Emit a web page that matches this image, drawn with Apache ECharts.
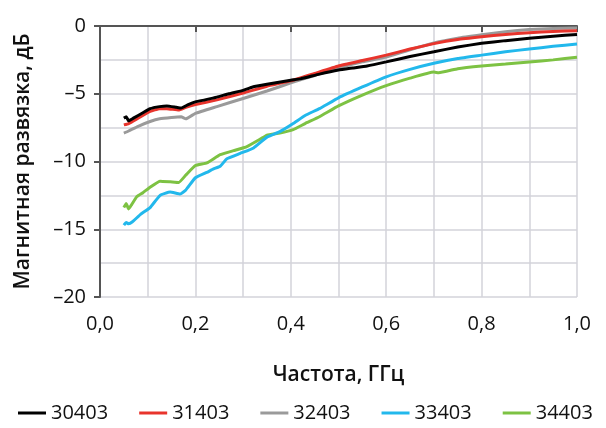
<!DOCTYPE html>
<html>
<head>
<meta charset="utf-8">
<script src="https://cdn.jsdelivr.net/npm/echarts@6/dist/echarts.min.js"></script>
<style>
  html, body { margin: 0; padding: 0; background: #fff; }
  #chart { width: 606px; height: 428px; }
</style>
</head>
<body>
<div id="chart"></div>
<script>
// названия серий и цвета
const seriesNames = ['30403', '31403', '32403', '33403', '34403'];
const seriesColors = ['#000000', '#e8342c', '#9a9a9a', '#22b8ec', '#7dc243'];

// данные: [частота ГГц, развязка дБ]
const s30403 = [[0.05,-6.8],[0.055,-6.7],[0.06,-7.0],[0.07,-6.8],[0.09,-6.4],[0.105,-6.1],[0.125,-5.95],[0.14,-5.9],[0.16,-6.0],[0.17,-6.05],[0.185,-5.8],[0.2,-5.6],[0.22,-5.45],[0.245,-5.25],[0.27,-5.0],[0.3,-4.75],[0.32,-4.5],[0.35,-4.3],[0.4,-4.0],[0.42,-3.9],[0.46,-3.55],[0.5,-3.25],[0.53,-3.1],[0.56,-2.95],[0.6,-2.65],[0.65,-2.25],[0.7,-1.9],[0.75,-1.55],[0.8,-1.28],[0.85,-1.08],[0.9,-0.9],[0.95,-0.75],[1.0,-0.62]];
const s31403 = [[0.05,-7.3],[0.06,-7.2],[0.08,-6.8],[0.105,-6.3],[0.125,-6.1],[0.14,-6.1],[0.165,-6.2],[0.18,-6.0],[0.2,-5.8],[0.245,-5.45],[0.3,-4.95],[0.35,-4.45],[0.4,-4.05],[0.45,-3.5],[0.5,-2.95],[0.55,-2.55],[0.6,-2.15],[0.65,-1.7],[0.7,-1.3],[0.75,-1.0],[0.8,-0.8],[0.85,-0.62],[0.9,-0.5],[0.95,-0.4],[1.0,-0.35]];
const s32403 = [[0.05,-7.9],[0.06,-7.75],[0.08,-7.4],[0.105,-7.05],[0.125,-6.85],[0.15,-6.75],[0.17,-6.7],[0.18,-6.85],[0.2,-6.45],[0.245,-5.95],[0.3,-5.35],[0.35,-4.8],[0.4,-4.2],[0.45,-3.65],[0.5,-3.1],[0.55,-2.65],[0.6,-2.3],[0.65,-1.75],[0.7,-1.25],[0.75,-0.9],[0.8,-0.65],[0.85,-0.42],[0.9,-0.26],[0.95,-0.18],[1.0,-0.15]];
const s33403 = [[0.05,-14.7],[0.055,-14.5],[0.06,-14.6],[0.068,-14.45],[0.085,-13.9],[0.105,-13.4],[0.126,-12.5],[0.147,-12.25],[0.168,-12.4],[0.18,-12.1],[0.2,-11.2],[0.224,-10.8],[0.238,-10.55],[0.252,-10.35],[0.266,-9.8],[0.294,-9.4],[0.322,-9.0],[0.35,-8.2],[0.377,-7.8],[0.405,-7.2],[0.43,-6.6],[0.46,-6.1],[0.5,-5.3],[0.55,-4.5],[0.6,-3.75],[0.65,-3.2],[0.7,-2.75],[0.75,-2.4],[0.8,-2.15],[0.85,-1.9],[0.9,-1.7],[0.95,-1.5],[1.0,-1.33]];
const s34403 = [[0.05,-13.4],[0.055,-13.1],[0.06,-13.5],[0.066,-13.2],[0.077,-12.6],[0.09,-12.3],[0.105,-11.9],[0.126,-11.45],[0.147,-11.5],[0.165,-11.55],[0.18,-11.0],[0.2,-10.3],[0.224,-10.1],[0.252,-9.5],[0.28,-9.2],[0.308,-8.9],[0.336,-8.35],[0.35,-8.05],[0.377,-7.9],[0.405,-7.65],[0.43,-7.2],[0.46,-6.7],[0.5,-5.9],[0.55,-5.1],[0.6,-4.4],[0.65,-3.85],[0.7,-3.4],[0.71,-3.45],[0.75,-3.15],[0.8,-2.95],[0.85,-2.8],[0.9,-2.65],[0.95,-2.5],[1.0,-2.3]];

const seriesData = [s30403, s31403, s32403, s33403, s34403];

const font = '"Open Sans", "DejaVu Sans", sans-serif';
const gridColor = '#d3d3da';

const chart = echarts.init(document.getElementById('chart'));
chart.setOption({
  animation: false,
  textStyle: { fontFamily: font },
  grid: { left: 100, right: 29, top: 26, bottom: 131 },
  legend: {
    bottom: 5,
    left: 18,
    width: 588,
    padding: 0,
    itemWidth: 28,
    itemHeight: 3,
    itemGap: 31,
    icon: 'rect',
    textStyle: { fontSize: 20, color: '#111', fontFamily: font },
    data: seriesNames
  },
  xAxis: {
    type: 'value',
    min: 0, max: 1, interval: 0.2,
    name: 'Частота, ГГц',
    nameLocation: 'middle',
    nameGap: 68,
    nameTextStyle: { fontSize: 21, fontWeight: 600, color: '#111' },
    axisLine: { lineStyle: { color: '#555', width: 2 } },
    axisTick: { show: true, length: 6, lineStyle: { color: '#555', width: 2 } },
    axisLabel: { fontSize: 20, color: '#111', margin: 17,
      formatter: v => v.toFixed(1).replace('.', ',') },
    splitLine: { show: true, lineStyle: { color: gridColor, width: 1.5 } },
    minorTick: { show: false, splitNumber: 2 },
    minorSplitLine: { show: true, lineStyle: { color: gridColor, width: 1.5 } }
  },
  yAxis: {
    type: 'value',
    min: -20, max: 0, interval: 5,
    name: 'Магнитная развязка, дБ',
    nameLocation: 'middle',
    nameGap: 66,
    nameTextStyle: { fontSize: 21, fontWeight: 600, color: '#111' },
    axisLine: { show: true, lineStyle: { color: '#555', width: 2 } },
    axisTick: { show: true, length: 6, lineStyle: { color: '#555', width: 2 } },
    axisLabel: { fontSize: 20, color: '#111', margin: 14,
      formatter: v => (v < 0 ? '–' + Math.abs(v) : String(v)) },
    splitLine: { show: true, lineStyle: { color: gridColor, width: 1.5 } },
    minorTick: { show: false, splitNumber: 2 },
    minorSplitLine: { show: true, lineStyle: { color: gridColor, width: 1.5 } }
  },
  series: seriesNames.map((n, i) => ({
    name: n,
    type: 'line',
    data: seriesData[i],
    showSymbol: false,
    smooth: 0.12,
    lineStyle: { color: seriesColors[i], width: 3 },
    itemStyle: { color: seriesColors[i] },
    z: 10 - i
  }))
});
</script>
</body>
</html>
